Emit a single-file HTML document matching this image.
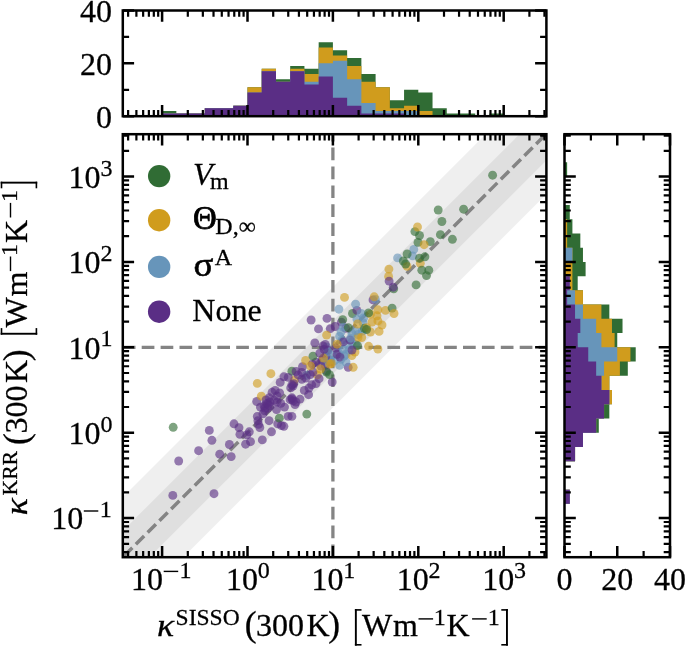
<!DOCTYPE html>
<html lang="en"><head><meta charset="utf-8"><title>kappa KRR vs SISSO</title>
<style>
html,body{margin:0;padding:0;background:#fff;}
body{width:685px;height:647px;overflow:hidden;font-family:"Liberation Serif",serif;}
svg{display:block;will-change:transform;transform:translateZ(0);}
</style></head><body>
<svg width="685" height="647" viewBox="0 0 685 647">
<rect x="0" y="0" width="685" height="647" fill="#fff"/>
<defs><clipPath id="cm"><rect x="122.8" y="134.2" width="423.6" height="423"/></clipPath></defs>
<g clip-path="url(#cm)">
<polygon points="-77.2,697.1 746.4,-126.5 746.4,-5.9 -77.2,817.7" fill="#efefef"/>
<polygon points="-77.2,730.9 746.4,-92.7 746.4,-39.7 -77.2,783.9" fill="#dfdfdf"/>
<line x1="122.8" y1="347.3" x2="546.4" y2="347.3" stroke="#848484" stroke-width="3.3" stroke-dasharray="12.7 6.2"/>
<line x1="332.9" y1="557.2" x2="332.9" y2="134.2" stroke="#848484" stroke-width="3.3" stroke-dasharray="12.7 6.2"/>
<line x1="122.8" y1="557.4" x2="546.4" y2="133.8" stroke="#848484" stroke-width="3.5" stroke-dasharray="11.66 4.99" stroke-dashoffset="14.81"/>
<g fill-opacity="0.62">
<circle cx="294.4" cy="379.9" r="4.45" fill="#d09c1d"/>
<circle cx="355.6" cy="344.4" r="4.45" fill="#6795ba"/>
<circle cx="330" cy="362" r="4.45" fill="#5a2e85"/>
<circle cx="302.5" cy="366.7" r="4.45" fill="#5a2e85"/>
<circle cx="317.3" cy="374.9" r="4.45" fill="#d09c1d"/>
<circle cx="397.6" cy="257.9" r="4.45" fill="#6795ba"/>
<circle cx="385.5" cy="310.4" r="4.45" fill="#d09c1d"/>
<circle cx="388.6" cy="276.4" r="4.45" fill="#d09c1d"/>
<circle cx="231.2" cy="456.6" r="4.45" fill="#5a2e85"/>
<circle cx="290.1" cy="399.7" r="4.45" fill="#5a2e85"/>
<circle cx="279.6" cy="392.9" r="4.45" fill="#5a2e85"/>
<circle cx="326.6" cy="346.9" r="4.45" fill="#6795ba"/>
<circle cx="363.1" cy="322.8" r="4.45" fill="#6795ba"/>
<circle cx="219.7" cy="454.2" r="4.45" fill="#5a2e85"/>
<circle cx="341.4" cy="322.1" r="4.45" fill="#5a2e85"/>
<circle cx="269.1" cy="420.7" r="4.45" fill="#5a2e85"/>
<circle cx="314.8" cy="342.9" r="4.45" fill="#5a2e85"/>
<circle cx="345.7" cy="354.3" r="4.45" fill="#6795ba"/>
<circle cx="259.8" cy="427.5" r="4.45" fill="#5a2e85"/>
<circle cx="340.8" cy="359.2" r="4.45" fill="#6795ba"/>
<circle cx="239" cy="427.7" r="4.45" fill="#5a2e85"/>
<circle cx="198.6" cy="450.7" r="4.45" fill="#5a2e85"/>
<circle cx="315.9" cy="362.3" r="4.45" fill="#5a2e85"/>
<circle cx="441.9" cy="221.5" r="4.45" fill="#306c34"/>
<circle cx="363.6" cy="318" r="4.45" fill="#6795ba"/>
<circle cx="239.9" cy="434.3" r="4.45" fill="#5a2e85"/>
<circle cx="413.8" cy="249.4" r="4.45" fill="#6795ba"/>
<circle cx="362.5" cy="331" r="4.45" fill="#6795ba"/>
<circle cx="347" cy="344.4" r="4.45" fill="#6795ba"/>
<circle cx="348.2" cy="367.3" r="4.45" fill="#5a2e85"/>
<circle cx="280.8" cy="403.4" r="4.45" fill="#5a2e85"/>
<circle cx="293.8" cy="383.6" r="4.45" fill="#5a2e85"/>
<circle cx="338" cy="352" r="4.45" fill="#6795ba"/>
<circle cx="264.1" cy="405.9" r="4.45" fill="#5a2e85"/>
<circle cx="393.7" cy="288.8" r="4.45" fill="#306c34"/>
<circle cx="332.2" cy="382" r="4.45" fill="#5a2e85"/>
<circle cx="277.1" cy="402.1" r="4.45" fill="#5a2e85"/>
<circle cx="438.2" cy="210" r="4.45" fill="#306c34"/>
<circle cx="330" cy="360" r="4.45" fill="#6795ba"/>
<circle cx="172.8" cy="495.4" r="4.45" fill="#5a2e85"/>
<circle cx="309" cy="388" r="4.45" fill="#5a2e85"/>
<circle cx="392.1" cy="308.1" r="4.45" fill="#306c34"/>
<circle cx="306.6" cy="375.2" r="4.45" fill="#6795ba"/>
<circle cx="295" cy="404.6" r="4.45" fill="#5a2e85"/>
<circle cx="334.6" cy="360.5" r="4.45" fill="#6795ba"/>
<circle cx="377.9" cy="320.9" r="4.45" fill="#d09c1d"/>
<circle cx="325.3" cy="365.4" r="4.45" fill="#5a2e85"/>
<circle cx="416.1" cy="284.9" r="4.45" fill="#306c34"/>
<circle cx="313" cy="372" r="4.45" fill="#5a2e85"/>
<circle cx="430.3" cy="241.6" r="4.45" fill="#306c34"/>
<circle cx="264.7" cy="410.8" r="4.45" fill="#5a2e85"/>
<circle cx="342.7" cy="319.7" r="4.45" fill="#306c34"/>
<circle cx="352.5" cy="313.5" r="4.45" fill="#306c34"/>
<circle cx="271.5" cy="431.8" r="4.45" fill="#5a2e85"/>
<circle cx="332.1" cy="355.5" r="4.45" fill="#6795ba"/>
<circle cx="306.8" cy="414.1" r="4.45" fill="#306c34"/>
<circle cx="305.6" cy="360.5" r="4.45" fill="#d09c1d"/>
<circle cx="266.6" cy="403.4" r="4.45" fill="#5a2e85"/>
<circle cx="420.3" cy="263.3" r="4.45" fill="#d09c1d"/>
<circle cx="291.9" cy="371.2" r="4.45" fill="#306c34"/>
<circle cx="322" cy="360" r="4.45" fill="#5a2e85"/>
<circle cx="326" cy="356" r="4.45" fill="#5a2e85"/>
<circle cx="288.2" cy="416.4" r="4.45" fill="#5a2e85"/>
<circle cx="326.4" cy="370.9" r="4.45" fill="#5a2e85"/>
<circle cx="325" cy="362" r="4.45" fill="#6795ba"/>
<circle cx="377" cy="315.8" r="4.45" fill="#d09c1d"/>
<circle cx="370.5" cy="314.1" r="4.45" fill="#d09c1d"/>
<circle cx="323" cy="346" r="4.45" fill="#5a2e85"/>
<circle cx="257.3" cy="383.4" r="4.45" fill="#d09c1d"/>
<circle cx="265" cy="408" r="4.45" fill="#5a2e85"/>
<circle cx="394" cy="313.5" r="4.45" fill="#d09c1d"/>
<circle cx="337.1" cy="354.3" r="4.45" fill="#5a2e85"/>
<circle cx="291.9" cy="384.8" r="4.45" fill="#5a2e85"/>
<circle cx="274" cy="400.3" r="4.45" fill="#5a2e85"/>
<circle cx="277.7" cy="423.8" r="4.45" fill="#5a2e85"/>
<circle cx="284.5" cy="407.1" r="4.45" fill="#5a2e85"/>
<circle cx="301.8" cy="379.3" r="4.45" fill="#5a2e85"/>
<circle cx="245.6" cy="444.2" r="4.45" fill="#5a2e85"/>
<circle cx="178.7" cy="461" r="4.45" fill="#5a2e85"/>
<circle cx="351.9" cy="355.5" r="4.45" fill="#d09c1d"/>
<circle cx="403.3" cy="261" r="4.45" fill="#306c34"/>
<circle cx="339.6" cy="365.4" r="4.45" fill="#6795ba"/>
<circle cx="270.9" cy="373.7" r="4.45" fill="#d09c1d"/>
<circle cx="342" cy="340" r="4.45" fill="#6795ba"/>
<circle cx="388.9" cy="269.1" r="4.45" fill="#d09c1d"/>
<circle cx="292" cy="399" r="4.45" fill="#5a2e85"/>
<circle cx="412.6" cy="255.9" r="4.45" fill="#6795ba"/>
<circle cx="344" cy="356" r="4.45" fill="#6795ba"/>
<circle cx="279.3" cy="418.2" r="4.45" fill="#306c34"/>
<circle cx="211.9" cy="440.3" r="4.45" fill="#5a2e85"/>
<circle cx="377.9" cy="309.8" r="4.45" fill="#d09c1d"/>
<circle cx="340" cy="357" r="4.45" fill="#5a2e85"/>
<circle cx="257.9" cy="420.7" r="4.45" fill="#5a2e85"/>
<circle cx="356.9" cy="310.4" r="4.45" fill="#5a2e85"/>
<circle cx="296.1" cy="371.5" r="4.45" fill="#5a2e85"/>
<circle cx="351.9" cy="333.3" r="4.45" fill="#6795ba"/>
<circle cx="419.5" cy="258.3" r="4.45" fill="#306c34"/>
<circle cx="272.1" cy="392.3" r="4.45" fill="#5a2e85"/>
<circle cx="358.1" cy="334.5" r="4.45" fill="#6795ba"/>
<circle cx="421.8" cy="270.2" r="4.45" fill="#306c34"/>
<circle cx="293" cy="386" r="4.45" fill="#5a2e85"/>
<circle cx="291.9" cy="397.8" r="4.45" fill="#5a2e85"/>
<circle cx="336" cy="348" r="4.45" fill="#5a2e85"/>
<circle cx="256.7" cy="401.5" r="4.45" fill="#5a2e85"/>
<circle cx="250.5" cy="441.7" r="4.45" fill="#5a2e85"/>
<circle cx="234" cy="423.8" r="4.45" fill="#5a2e85"/>
<circle cx="355" cy="352" r="4.45" fill="#d09c1d"/>
<circle cx="389.1" cy="281.1" r="4.45" fill="#5a2e85"/>
<circle cx="246.8" cy="434.9" r="4.45" fill="#5a2e85"/>
<circle cx="311.1" cy="320" r="4.45" fill="#5a2e85"/>
<circle cx="312.4" cy="364.2" r="4.45" fill="#5a2e85"/>
<circle cx="352" cy="342" r="4.45" fill="#6795ba"/>
<circle cx="330.3" cy="328.6" r="4.45" fill="#5a2e85"/>
<circle cx="418" cy="242.4" r="4.45" fill="#306c34"/>
<circle cx="364.3" cy="328.3" r="4.45" fill="#306c34"/>
<circle cx="349" cy="350" r="4.45" fill="#6795ba"/>
<circle cx="321" cy="366" r="4.45" fill="#5a2e85"/>
<circle cx="300" cy="399.1" r="4.45" fill="#5a2e85"/>
<circle cx="229.4" cy="444.5" r="4.45" fill="#5a2e85"/>
<circle cx="355.6" cy="304.2" r="4.45" fill="#6795ba"/>
<circle cx="407.1" cy="266.4" r="4.45" fill="#d09c1d"/>
<circle cx="280.2" cy="382.4" r="4.45" fill="#5a2e85"/>
<circle cx="358" cy="337.5" r="4.45" fill="#d09c1d"/>
<circle cx="368.6" cy="346.3" r="4.45" fill="#d09c1d"/>
<circle cx="209.3" cy="430.4" r="4.45" fill="#5a2e85"/>
<circle cx="258.5" cy="424.4" r="4.45" fill="#5a2e85"/>
<circle cx="393.2" cy="287.2" r="4.45" fill="#5a2e85"/>
<circle cx="350" cy="340" r="4.45" fill="#5a2e85"/>
<circle cx="311.7" cy="384.8" r="4.45" fill="#5a2e85"/>
<circle cx="291.9" cy="416.4" r="4.45" fill="#5a2e85"/>
<circle cx="269.1" cy="397.8" r="4.45" fill="#5a2e85"/>
<circle cx="319.1" cy="378.7" r="4.45" fill="#5a2e85"/>
<circle cx="262.9" cy="413.9" r="4.45" fill="#5a2e85"/>
<circle cx="249.3" cy="431.8" r="4.45" fill="#5a2e85"/>
<circle cx="328" cy="350" r="4.45" fill="#5a2e85"/>
<circle cx="301.8" cy="372.5" r="4.45" fill="#5a2e85"/>
<circle cx="328" cy="352" r="4.45" fill="#6795ba"/>
<circle cx="361.2" cy="313.5" r="4.45" fill="#6795ba"/>
<circle cx="368.6" cy="312.9" r="4.45" fill="#306c34"/>
<circle cx="267.8" cy="408.3" r="4.45" fill="#5a2e85"/>
<circle cx="343.3" cy="349.4" r="4.45" fill="#6795ba"/>
<circle cx="257.3" cy="416.4" r="4.45" fill="#5a2e85"/>
<circle cx="324.1" cy="349.4" r="4.45" fill="#5a2e85"/>
<circle cx="214" cy="493.7" r="4.45" fill="#5a2e85"/>
<circle cx="357.5" cy="345.6" r="4.45" fill="#306c34"/>
<circle cx="440.4" cy="234.7" r="4.45" fill="#306c34"/>
<circle cx="335.2" cy="326.5" r="4.45" fill="#5a2e85"/>
<circle cx="304.3" cy="390.4" r="4.45" fill="#5a2e85"/>
<circle cx="373" cy="299.9" r="4.45" fill="#5a2e85"/>
<circle cx="356.9" cy="319.1" r="4.45" fill="#6795ba"/>
<circle cx="262.3" cy="439.9" r="4.45" fill="#5a2e85"/>
<circle cx="338.9" cy="309.2" r="4.45" fill="#6795ba"/>
<circle cx="331.3" cy="363.5" r="4.45" fill="#d09c1d"/>
<circle cx="298.1" cy="374.9" r="4.45" fill="#5a2e85"/>
<circle cx="370.5" cy="332" r="4.45" fill="#d09c1d"/>
<circle cx="283.9" cy="426.3" r="4.45" fill="#5a2e85"/>
<circle cx="325.3" cy="344.4" r="4.45" fill="#5a2e85"/>
<circle cx="426.5" cy="275.6" r="4.45" fill="#306c34"/>
<circle cx="288.2" cy="377.4" r="4.45" fill="#5a2e85"/>
<circle cx="424.1" cy="244.7" r="4.45" fill="#d09c1d"/>
<circle cx="419.5" cy="235.5" r="4.45" fill="#306c34"/>
<circle cx="293.2" cy="400.9" r="4.45" fill="#5a2e85"/>
<circle cx="308.6" cy="394.7" r="4.45" fill="#5a2e85"/>
<circle cx="345.7" cy="328.3" r="4.45" fill="#5a2e85"/>
<circle cx="379.1" cy="331.4" r="4.45" fill="#d09c1d"/>
<circle cx="377.9" cy="349.1" r="4.45" fill="#d09c1d"/>
<circle cx="339.6" cy="336.4" r="4.45" fill="#6795ba"/>
<circle cx="414.9" cy="231.6" r="4.45" fill="#306c34"/>
<circle cx="407.1" cy="254" r="4.45" fill="#306c34"/>
<circle cx="281.4" cy="425.6" r="4.45" fill="#5a2e85"/>
<circle cx="355.6" cy="330.8" r="4.45" fill="#6795ba"/>
<circle cx="329.5" cy="374.6" r="4.45" fill="#306c34"/>
<circle cx="405.6" cy="264" r="4.45" fill="#306c34"/>
<circle cx="353.2" cy="367.3" r="4.45" fill="#d09c1d"/>
<circle cx="463.6" cy="209.2" r="4.45" fill="#306c34"/>
<circle cx="310.5" cy="366" r="4.45" fill="#d09c1d"/>
<circle cx="276.5" cy="409.6" r="4.45" fill="#5a2e85"/>
<circle cx="417.5" cy="227" r="4.45" fill="#d09c1d"/>
<circle cx="268" cy="404" r="4.45" fill="#5a2e85"/>
<circle cx="343.3" cy="341.9" r="4.45" fill="#5a2e85"/>
<circle cx="326.5" cy="372" r="4.45" fill="#306c34"/>
<circle cx="260.4" cy="407.1" r="4.45" fill="#5a2e85"/>
<circle cx="261.3" cy="396.2" r="4.45" fill="#d09c1d"/>
<circle cx="327" cy="318.4" r="4.45" fill="#5a2e85"/>
<circle cx="313" cy="356.2" r="4.45" fill="#306c34"/>
<circle cx="346" cy="362" r="4.45" fill="#6795ba"/>
<circle cx="329.7" cy="364.2" r="4.45" fill="#d09c1d"/>
<circle cx="277.1" cy="396" r="4.45" fill="#5a2e85"/>
<circle cx="366.8" cy="327.7" r="4.45" fill="#d09c1d"/>
<circle cx="270" cy="402" r="4.45" fill="#5a2e85"/>
<circle cx="310.3" cy="374.6" r="4.45" fill="#5a2e85"/>
<circle cx="375.4" cy="299.4" r="4.45" fill="#6795ba"/>
<circle cx="350.7" cy="338.2" r="4.45" fill="#6795ba"/>
<circle cx="283.9" cy="376.8" r="4.45" fill="#5a2e85"/>
<circle cx="316" cy="383.6" r="4.45" fill="#5a2e85"/>
<circle cx="266" cy="400" r="4.45" fill="#5a2e85"/>
<circle cx="296" cy="402" r="4.45" fill="#5a2e85"/>
<circle cx="343.3" cy="327.1" r="4.45" fill="#6795ba"/>
<circle cx="348.2" cy="327.7" r="4.45" fill="#306c34"/>
<circle cx="492.6" cy="175.2" r="4.45" fill="#306c34"/>
<circle cx="452.4" cy="239.3" r="4.45" fill="#306c34"/>
<circle cx="372" cy="322" r="4.45" fill="#d09c1d"/>
<circle cx="318.5" cy="328.9" r="4.45" fill="#5a2e85"/>
<circle cx="428.8" cy="270.2" r="4.45" fill="#306c34"/>
<circle cx="269.7" cy="405.9" r="4.45" fill="#5a2e85"/>
<circle cx="344.5" cy="297.4" r="4.45" fill="#d09c1d"/>
<circle cx="352" cy="350" r="4.45" fill="#5a2e85"/>
<circle cx="173.2" cy="427.3" r="4.45" fill="#306c34"/>
<circle cx="320.5" cy="369" r="4.45" fill="#d09c1d"/>
<circle cx="306" cy="378" r="4.45" fill="#5a2e85"/>
<circle cx="424.9" cy="256.8" r="4.45" fill="#306c34"/>
<circle cx="275.2" cy="390.4" r="4.45" fill="#5a2e85"/>
<circle cx="361.7" cy="337.5" r="4.45" fill="#d09c1d"/>
<circle cx="290.7" cy="387.9" r="4.45" fill="#5a2e85"/>
<circle cx="366.5" cy="329.5" r="4.45" fill="#306c34"/>
<circle cx="323.5" cy="358" r="4.45" fill="#d09c1d"/>
<circle cx="382" cy="325" r="4.45" fill="#d09c1d"/>
<circle cx="319.8" cy="353.1" r="4.45" fill="#5a2e85"/>
<circle cx="341" cy="332" r="4.45" fill="#6795ba"/>
<circle cx="326.6" cy="335.1" r="4.45" fill="#d09c1d"/>
<circle cx="337.1" cy="344.2" r="4.45" fill="#d09c1d"/>
<circle cx="357.5" cy="324" r="4.45" fill="#d09c1d"/>
<circle cx="374.2" cy="296.8" r="4.45" fill="#d09c1d"/>
</g>
</g>
<path d="M162.1 116.2 L162.1 110.92 L176.33 110.92 L176.33 113.56 L190.57 113.56 L190.57 113.56 L204.8 113.56 L204.8 108.27 L219.03 108.27 L219.03 108.27 L233.27 108.27 L233.27 105.63 L247.5 105.63 L247.5 87.13 L261.73 87.13 L261.73 68.64 L275.97 68.64 L275.97 79.2 L290.2 79.2 L290.2 65.99 L304.43 65.99 L304.43 68.64 L318.67 68.64 L318.67 42.21 L332.9 42.21 L332.9 50.14 L347.13 50.14 L347.13 58.06 L361.37 58.06 L361.37 73.92 L375.6 73.92 L375.6 87.13 L389.83 87.13 L389.83 100.34 L404.07 100.34 L404.07 89.78 L418.3 89.78 L418.3 92.42 L432.53 92.42 L432.53 108.27 L446.77 108.27 L446.77 113.56 L461 113.56 L461 113.56 L475.23 113.56 L475.23 116.2 Z M489.47 116.2 L489.47 113.56 L503.7 113.56 L503.7 116.2 Z" fill="#306c34"/>
<path d="M162.1 116.2 L162.1 113.56 L176.33 113.56 L176.33 113.56 L190.57 113.56 L190.57 113.56 L204.8 113.56 L204.8 108.27 L219.03 108.27 L219.03 108.27 L233.27 108.27 L233.27 105.63 L247.5 105.63 L247.5 87.13 L261.73 87.13 L261.73 68.64 L275.97 68.64 L275.97 81.85 L290.2 81.85 L290.2 68.64 L304.43 68.64 L304.43 73.92 L318.67 73.92 L318.67 47.5 L332.9 47.5 L332.9 55.42 L347.13 55.42 L347.13 65.99 L361.37 65.99 L361.37 81.85 L375.6 81.85 L375.6 87.13 L389.83 87.13 L389.83 108.27 L404.07 108.27 L404.07 105.63 L418.3 105.63 L418.3 110.92 L432.53 110.92 L432.53 116.2 Z" fill="#d09c1d"/>
<path d="M162.1 116.2 L162.1 113.56 L176.33 113.56 L176.33 113.56 L190.57 113.56 L190.57 113.56 L204.8 113.56 L204.8 108.27 L219.03 108.27 L219.03 108.27 L233.27 108.27 L233.27 105.63 L247.5 105.63 L247.5 92.42 L261.73 92.42 L261.73 71.28 L275.97 71.28 L275.97 81.85 L290.2 81.85 L290.2 71.28 L304.43 71.28 L304.43 81.85 L318.67 81.85 L318.67 63.35 L332.9 63.35 L332.9 60.71 L347.13 60.71 L347.13 79.2 L361.37 79.2 L361.37 102.99 L375.6 102.99 L375.6 110.92 L389.83 110.92 L389.83 110.92 L404.07 110.92 L404.07 110.92 L418.3 110.92 L418.3 116.2 Z" fill="#6795ba"/>
<path d="M162.1 116.2 L162.1 113.56 L176.33 113.56 L176.33 113.56 L190.57 113.56 L190.57 113.56 L204.8 113.56 L204.8 108.27 L219.03 108.27 L219.03 108.27 L233.27 108.27 L233.27 105.63 L247.5 105.63 L247.5 92.42 L261.73 92.42 L261.73 71.28 L275.97 71.28 L275.97 81.85 L290.2 81.85 L290.2 71.28 L304.43 71.28 L304.43 84.49 L318.67 84.49 L318.67 76.56 L332.9 76.56 L332.9 97.7 L347.13 97.7 L347.13 105.63 L361.37 105.63 L361.37 113.56 L375.6 113.56 L375.6 113.56 L389.83 113.56 L389.83 113.56 L404.07 113.56 L404.07 116.2 Z" fill="#5a2e85"/>
<path d="M564.5 503.87 L569.77 503.87 L569.77 489.63 L564.5 489.63 Z M564.5 461.17 L575.05 461.17 L575.05 446.93 L582.96 446.93 L582.96 432.7 L598.79 432.7 L598.79 418.47 L609.34 418.47 L609.34 404.23 L611.98 404.23 L611.98 390 L609.34 390 L609.34 375.77 L627.8 375.77 L627.8 361.53 L635.71 361.53 L635.71 347.3 L617.25 347.3 L617.25 333.07 L622.52 333.07 L622.52 318.83 L609.34 318.83 L609.34 304.6 L582.96 304.6 L582.96 290.37 L577.69 290.37 L577.69 276.13 L585.6 276.13 L585.6 261.9 L582.96 261.9 L582.96 247.67 L580.33 247.67 L580.33 233.43 L572.41 233.43 L572.41 219.2 L569.77 219.2 L569.77 204.97 L564.5 204.97 Z M564.5 176.5 L567.14 176.5 L567.14 162.27 L564.5 162.27 Z" fill="#306c34"/>
<path d="M564.5 503.87 L569.77 503.87 L569.77 489.63 L564.5 489.63 Z M564.5 461.17 L575.05 461.17 L575.05 446.93 L582.96 446.93 L582.96 432.7 L596.15 432.7 L596.15 418.47 L604.06 418.47 L604.06 404.23 L611.98 404.23 L611.98 390 L609.34 390 L609.34 375.77 L619.89 375.77 L619.89 361.53 L630.44 361.53 L630.44 347.3 L614.61 347.3 L614.61 333.07 L611.98 333.07 L611.98 318.83 L601.42 318.83 L601.42 304.6 L582.96 304.6 L582.96 290.37 L572.41 290.37 L572.41 276.13 L572.41 276.13 L572.41 261.9 L572.41 261.9 L572.41 247.67 L567.14 247.67 L567.14 233.43 L567.14 233.43 L567.14 219.2 L564.5 219.2 Z" fill="#d09c1d"/>
<path d="M564.5 503.87 L569.77 503.87 L569.77 489.63 L564.5 489.63 Z M564.5 461.17 L575.05 461.17 L575.05 446.93 L582.96 446.93 L582.96 432.7 L596.15 432.7 L596.15 418.47 L604.06 418.47 L604.06 404.23 L609.34 404.23 L609.34 390 L601.42 390 L601.42 375.77 L604.06 375.77 L604.06 361.53 L617.25 361.53 L617.25 347.3 L601.42 347.3 L601.42 333.07 L596.15 333.07 L596.15 318.83 L582.96 318.83 L582.96 304.6 L575.05 304.6 L575.05 290.37 L569.77 290.37 L569.77 276.13 L564.5 276.13 Z M564.5 261.9 L572.41 261.9 L572.41 247.67 L564.5 247.67 Z" fill="#6795ba"/>
<path d="M564.5 503.87 L569.77 503.87 L569.77 489.63 L564.5 489.63 Z M564.5 461.17 L575.05 461.17 L575.05 446.93 L582.96 446.93 L582.96 432.7 L596.15 432.7 L596.15 418.47 L604.06 418.47 L604.06 404.23 L609.34 404.23 L609.34 390 L601.42 390 L601.42 375.77 L596.15 375.77 L596.15 361.53 L588.24 361.53 L588.24 347.3 L577.69 347.3 L577.69 333.07 L580.33 333.07 L580.33 318.83 L575.05 318.83 L575.05 304.6 L567.14 304.6 L567.14 290.37 L569.77 290.37 L569.77 276.13 L564.5 276.13 Z" fill="#5a2e85"/>
<g stroke="#000" stroke-linecap="butt">
<path d="M128.12 134.2v6.3 M128.12 557.2v-6.3" stroke-width="2.2"/>
<path d="M136.39 134.2v6.3 M136.39 557.2v-6.3" stroke-width="2.2"/>
<path d="M143.15 134.2v6.3 M143.15 557.2v-6.3" stroke-width="2.2"/>
<path d="M148.87 134.2v6.3 M148.87 557.2v-6.3" stroke-width="2.2"/>
<path d="M153.82 134.2v6.3 M153.82 557.2v-6.3" stroke-width="2.2"/>
<path d="M158.19 134.2v6.3 M158.19 557.2v-6.3" stroke-width="2.2"/>
<path d="M162.1 134.2v11.3 M162.1 557.2v-11.3" stroke-width="2.5"/>
<path d="M187.81 134.2v6.3 M187.81 557.2v-6.3" stroke-width="2.2"/>
<path d="M202.85 134.2v6.3 M202.85 557.2v-6.3" stroke-width="2.2"/>
<path d="M213.52 134.2v6.3 M213.52 557.2v-6.3" stroke-width="2.2"/>
<path d="M221.79 134.2v6.3 M221.79 557.2v-6.3" stroke-width="2.2"/>
<path d="M228.55 134.2v6.3 M228.55 557.2v-6.3" stroke-width="2.2"/>
<path d="M234.27 134.2v6.3 M234.27 557.2v-6.3" stroke-width="2.2"/>
<path d="M239.22 134.2v6.3 M239.22 557.2v-6.3" stroke-width="2.2"/>
<path d="M243.59 134.2v6.3 M243.59 557.2v-6.3" stroke-width="2.2"/>
<path d="M247.5 134.2v11.3 M247.5 557.2v-11.3" stroke-width="2.5"/>
<path d="M273.21 134.2v6.3 M273.21 557.2v-6.3" stroke-width="2.2"/>
<path d="M288.25 134.2v6.3 M288.25 557.2v-6.3" stroke-width="2.2"/>
<path d="M298.92 134.2v6.3 M298.92 557.2v-6.3" stroke-width="2.2"/>
<path d="M307.19 134.2v6.3 M307.19 557.2v-6.3" stroke-width="2.2"/>
<path d="M313.95 134.2v6.3 M313.95 557.2v-6.3" stroke-width="2.2"/>
<path d="M319.67 134.2v6.3 M319.67 557.2v-6.3" stroke-width="2.2"/>
<path d="M324.62 134.2v6.3 M324.62 557.2v-6.3" stroke-width="2.2"/>
<path d="M328.99 134.2v6.3 M328.99 557.2v-6.3" stroke-width="2.2"/>
<path d="M332.9 134.2v11.3 M332.9 557.2v-11.3" stroke-width="2.5"/>
<path d="M358.61 134.2v6.3 M358.61 557.2v-6.3" stroke-width="2.2"/>
<path d="M373.65 134.2v6.3 M373.65 557.2v-6.3" stroke-width="2.2"/>
<path d="M384.32 134.2v6.3 M384.32 557.2v-6.3" stroke-width="2.2"/>
<path d="M392.59 134.2v6.3 M392.59 557.2v-6.3" stroke-width="2.2"/>
<path d="M399.35 134.2v6.3 M399.35 557.2v-6.3" stroke-width="2.2"/>
<path d="M405.07 134.2v6.3 M405.07 557.2v-6.3" stroke-width="2.2"/>
<path d="M410.02 134.2v6.3 M410.02 557.2v-6.3" stroke-width="2.2"/>
<path d="M414.39 134.2v6.3 M414.39 557.2v-6.3" stroke-width="2.2"/>
<path d="M418.3 134.2v11.3 M418.3 557.2v-11.3" stroke-width="2.5"/>
<path d="M444.01 134.2v6.3 M444.01 557.2v-6.3" stroke-width="2.2"/>
<path d="M459.05 134.2v6.3 M459.05 557.2v-6.3" stroke-width="2.2"/>
<path d="M469.72 134.2v6.3 M469.72 557.2v-6.3" stroke-width="2.2"/>
<path d="M477.99 134.2v6.3 M477.99 557.2v-6.3" stroke-width="2.2"/>
<path d="M484.75 134.2v6.3 M484.75 557.2v-6.3" stroke-width="2.2"/>
<path d="M490.47 134.2v6.3 M490.47 557.2v-6.3" stroke-width="2.2"/>
<path d="M495.42 134.2v6.3 M495.42 557.2v-6.3" stroke-width="2.2"/>
<path d="M499.79 134.2v6.3 M499.79 557.2v-6.3" stroke-width="2.2"/>
<path d="M503.7 134.2v11.3 M503.7 557.2v-11.3" stroke-width="2.5"/>
<path d="M529.41 134.2v6.3 M529.41 557.2v-6.3" stroke-width="2.2"/>
<path d="M544.45 134.2v6.3 M544.45 557.2v-6.3" stroke-width="2.2"/>
<path d="M122.8 552.08h6.3 M546.4 552.08h-6.3" stroke-width="2.2"/>
<path d="M122.8 543.81h6.3 M546.4 543.81h-6.3" stroke-width="2.2"/>
<path d="M122.8 537.05h6.3 M546.4 537.05h-6.3" stroke-width="2.2"/>
<path d="M122.8 531.33h6.3 M546.4 531.33h-6.3" stroke-width="2.2"/>
<path d="M122.8 526.38h6.3 M546.4 526.38h-6.3" stroke-width="2.2"/>
<path d="M122.8 522.01h6.3 M546.4 522.01h-6.3" stroke-width="2.2"/>
<path d="M122.8 518.1h11.3 M546.4 518.1h-11.3" stroke-width="2.5"/>
<path d="M122.8 492.39h6.3 M546.4 492.39h-6.3" stroke-width="2.2"/>
<path d="M122.8 477.35h6.3 M546.4 477.35h-6.3" stroke-width="2.2"/>
<path d="M122.8 466.68h6.3 M546.4 466.68h-6.3" stroke-width="2.2"/>
<path d="M122.8 458.41h6.3 M546.4 458.41h-6.3" stroke-width="2.2"/>
<path d="M122.8 451.65h6.3 M546.4 451.65h-6.3" stroke-width="2.2"/>
<path d="M122.8 445.93h6.3 M546.4 445.93h-6.3" stroke-width="2.2"/>
<path d="M122.8 440.98h6.3 M546.4 440.98h-6.3" stroke-width="2.2"/>
<path d="M122.8 436.61h6.3 M546.4 436.61h-6.3" stroke-width="2.2"/>
<path d="M122.8 432.7h11.3 M546.4 432.7h-11.3" stroke-width="2.5"/>
<path d="M122.8 406.99h6.3 M546.4 406.99h-6.3" stroke-width="2.2"/>
<path d="M122.8 391.95h6.3 M546.4 391.95h-6.3" stroke-width="2.2"/>
<path d="M122.8 381.28h6.3 M546.4 381.28h-6.3" stroke-width="2.2"/>
<path d="M122.8 373.01h6.3 M546.4 373.01h-6.3" stroke-width="2.2"/>
<path d="M122.8 366.25h6.3 M546.4 366.25h-6.3" stroke-width="2.2"/>
<path d="M122.8 360.53h6.3 M546.4 360.53h-6.3" stroke-width="2.2"/>
<path d="M122.8 355.58h6.3 M546.4 355.58h-6.3" stroke-width="2.2"/>
<path d="M122.8 351.21h6.3 M546.4 351.21h-6.3" stroke-width="2.2"/>
<path d="M122.8 347.3h11.3 M546.4 347.3h-11.3" stroke-width="2.5"/>
<path d="M122.8 321.59h6.3 M546.4 321.59h-6.3" stroke-width="2.2"/>
<path d="M122.8 306.55h6.3 M546.4 306.55h-6.3" stroke-width="2.2"/>
<path d="M122.8 295.88h6.3 M546.4 295.88h-6.3" stroke-width="2.2"/>
<path d="M122.8 287.61h6.3 M546.4 287.61h-6.3" stroke-width="2.2"/>
<path d="M122.8 280.85h6.3 M546.4 280.85h-6.3" stroke-width="2.2"/>
<path d="M122.8 275.13h6.3 M546.4 275.13h-6.3" stroke-width="2.2"/>
<path d="M122.8 270.18h6.3 M546.4 270.18h-6.3" stroke-width="2.2"/>
<path d="M122.8 265.81h6.3 M546.4 265.81h-6.3" stroke-width="2.2"/>
<path d="M122.8 261.9h11.3 M546.4 261.9h-11.3" stroke-width="2.5"/>
<path d="M122.8 236.19h6.3 M546.4 236.19h-6.3" stroke-width="2.2"/>
<path d="M122.8 221.15h6.3 M546.4 221.15h-6.3" stroke-width="2.2"/>
<path d="M122.8 210.48h6.3 M546.4 210.48h-6.3" stroke-width="2.2"/>
<path d="M122.8 202.21h6.3 M546.4 202.21h-6.3" stroke-width="2.2"/>
<path d="M122.8 195.45h6.3 M546.4 195.45h-6.3" stroke-width="2.2"/>
<path d="M122.8 189.73h6.3 M546.4 189.73h-6.3" stroke-width="2.2"/>
<path d="M122.8 184.78h6.3 M546.4 184.78h-6.3" stroke-width="2.2"/>
<path d="M122.8 180.41h6.3 M546.4 180.41h-6.3" stroke-width="2.2"/>
<path d="M122.8 176.5h11.3 M546.4 176.5h-11.3" stroke-width="2.5"/>
<path d="M122.8 150.79h6.3 M546.4 150.79h-6.3" stroke-width="2.2"/>
<path d="M122.8 135.75h6.3 M546.4 135.75h-6.3" stroke-width="2.2"/>
<path d="M128.12 10.5v6.3 M128.12 116.2v-6.3" stroke-width="2.2"/>
<path d="M136.39 10.5v6.3 M136.39 116.2v-6.3" stroke-width="2.2"/>
<path d="M143.15 10.5v6.3 M143.15 116.2v-6.3" stroke-width="2.2"/>
<path d="M148.87 10.5v6.3 M148.87 116.2v-6.3" stroke-width="2.2"/>
<path d="M153.82 10.5v6.3 M153.82 116.2v-6.3" stroke-width="2.2"/>
<path d="M158.19 10.5v6.3 M158.19 116.2v-6.3" stroke-width="2.2"/>
<path d="M162.1 10.5v11.3 M162.1 116.2v-11.3" stroke-width="2.5"/>
<path d="M187.81 10.5v6.3 M187.81 116.2v-6.3" stroke-width="2.2"/>
<path d="M202.85 10.5v6.3 M202.85 116.2v-6.3" stroke-width="2.2"/>
<path d="M213.52 10.5v6.3 M213.52 116.2v-6.3" stroke-width="2.2"/>
<path d="M221.79 10.5v6.3 M221.79 116.2v-6.3" stroke-width="2.2"/>
<path d="M228.55 10.5v6.3 M228.55 116.2v-6.3" stroke-width="2.2"/>
<path d="M234.27 10.5v6.3 M234.27 116.2v-6.3" stroke-width="2.2"/>
<path d="M239.22 10.5v6.3 M239.22 116.2v-6.3" stroke-width="2.2"/>
<path d="M243.59 10.5v6.3 M243.59 116.2v-6.3" stroke-width="2.2"/>
<path d="M247.5 10.5v11.3 M247.5 116.2v-11.3" stroke-width="2.5"/>
<path d="M273.21 10.5v6.3 M273.21 116.2v-6.3" stroke-width="2.2"/>
<path d="M288.25 10.5v6.3 M288.25 116.2v-6.3" stroke-width="2.2"/>
<path d="M298.92 10.5v6.3 M298.92 116.2v-6.3" stroke-width="2.2"/>
<path d="M307.19 10.5v6.3 M307.19 116.2v-6.3" stroke-width="2.2"/>
<path d="M313.95 10.5v6.3 M313.95 116.2v-6.3" stroke-width="2.2"/>
<path d="M319.67 10.5v6.3 M319.67 116.2v-6.3" stroke-width="2.2"/>
<path d="M324.62 10.5v6.3 M324.62 116.2v-6.3" stroke-width="2.2"/>
<path d="M328.99 10.5v6.3 M328.99 116.2v-6.3" stroke-width="2.2"/>
<path d="M332.9 10.5v11.3 M332.9 116.2v-11.3" stroke-width="2.5"/>
<path d="M358.61 10.5v6.3 M358.61 116.2v-6.3" stroke-width="2.2"/>
<path d="M373.65 10.5v6.3 M373.65 116.2v-6.3" stroke-width="2.2"/>
<path d="M384.32 10.5v6.3 M384.32 116.2v-6.3" stroke-width="2.2"/>
<path d="M392.59 10.5v6.3 M392.59 116.2v-6.3" stroke-width="2.2"/>
<path d="M399.35 10.5v6.3 M399.35 116.2v-6.3" stroke-width="2.2"/>
<path d="M405.07 10.5v6.3 M405.07 116.2v-6.3" stroke-width="2.2"/>
<path d="M410.02 10.5v6.3 M410.02 116.2v-6.3" stroke-width="2.2"/>
<path d="M414.39 10.5v6.3 M414.39 116.2v-6.3" stroke-width="2.2"/>
<path d="M418.3 10.5v11.3 M418.3 116.2v-11.3" stroke-width="2.5"/>
<path d="M444.01 10.5v6.3 M444.01 116.2v-6.3" stroke-width="2.2"/>
<path d="M459.05 10.5v6.3 M459.05 116.2v-6.3" stroke-width="2.2"/>
<path d="M469.72 10.5v6.3 M469.72 116.2v-6.3" stroke-width="2.2"/>
<path d="M477.99 10.5v6.3 M477.99 116.2v-6.3" stroke-width="2.2"/>
<path d="M484.75 10.5v6.3 M484.75 116.2v-6.3" stroke-width="2.2"/>
<path d="M490.47 10.5v6.3 M490.47 116.2v-6.3" stroke-width="2.2"/>
<path d="M495.42 10.5v6.3 M495.42 116.2v-6.3" stroke-width="2.2"/>
<path d="M499.79 10.5v6.3 M499.79 116.2v-6.3" stroke-width="2.2"/>
<path d="M503.7 10.5v11.3 M503.7 116.2v-11.3" stroke-width="2.5"/>
<path d="M529.41 10.5v6.3 M529.41 116.2v-6.3" stroke-width="2.2"/>
<path d="M544.45 10.5v6.3 M544.45 116.2v-6.3" stroke-width="2.2"/>
<path d="M564.5 552.08h6.3 M670 552.08h-6.3" stroke-width="2.2"/>
<path d="M564.5 543.81h6.3 M670 543.81h-6.3" stroke-width="2.2"/>
<path d="M564.5 537.05h6.3 M670 537.05h-6.3" stroke-width="2.2"/>
<path d="M564.5 531.33h6.3 M670 531.33h-6.3" stroke-width="2.2"/>
<path d="M564.5 526.38h6.3 M670 526.38h-6.3" stroke-width="2.2"/>
<path d="M564.5 522.01h6.3 M670 522.01h-6.3" stroke-width="2.2"/>
<path d="M564.5 518.1h11.3 M670 518.1h-11.3" stroke-width="2.5"/>
<path d="M564.5 492.39h6.3 M670 492.39h-6.3" stroke-width="2.2"/>
<path d="M564.5 477.35h6.3 M670 477.35h-6.3" stroke-width="2.2"/>
<path d="M564.5 466.68h6.3 M670 466.68h-6.3" stroke-width="2.2"/>
<path d="M564.5 458.41h6.3 M670 458.41h-6.3" stroke-width="2.2"/>
<path d="M564.5 451.65h6.3 M670 451.65h-6.3" stroke-width="2.2"/>
<path d="M564.5 445.93h6.3 M670 445.93h-6.3" stroke-width="2.2"/>
<path d="M564.5 440.98h6.3 M670 440.98h-6.3" stroke-width="2.2"/>
<path d="M564.5 436.61h6.3 M670 436.61h-6.3" stroke-width="2.2"/>
<path d="M564.5 432.7h11.3 M670 432.7h-11.3" stroke-width="2.5"/>
<path d="M564.5 406.99h6.3 M670 406.99h-6.3" stroke-width="2.2"/>
<path d="M564.5 391.95h6.3 M670 391.95h-6.3" stroke-width="2.2"/>
<path d="M564.5 381.28h6.3 M670 381.28h-6.3" stroke-width="2.2"/>
<path d="M564.5 373.01h6.3 M670 373.01h-6.3" stroke-width="2.2"/>
<path d="M564.5 366.25h6.3 M670 366.25h-6.3" stroke-width="2.2"/>
<path d="M564.5 360.53h6.3 M670 360.53h-6.3" stroke-width="2.2"/>
<path d="M564.5 355.58h6.3 M670 355.58h-6.3" stroke-width="2.2"/>
<path d="M564.5 351.21h6.3 M670 351.21h-6.3" stroke-width="2.2"/>
<path d="M564.5 347.3h11.3 M670 347.3h-11.3" stroke-width="2.5"/>
<path d="M564.5 321.59h6.3 M670 321.59h-6.3" stroke-width="2.2"/>
<path d="M564.5 306.55h6.3 M670 306.55h-6.3" stroke-width="2.2"/>
<path d="M564.5 295.88h6.3 M670 295.88h-6.3" stroke-width="2.2"/>
<path d="M564.5 287.61h6.3 M670 287.61h-6.3" stroke-width="2.2"/>
<path d="M564.5 280.85h6.3 M670 280.85h-6.3" stroke-width="2.2"/>
<path d="M564.5 275.13h6.3 M670 275.13h-6.3" stroke-width="2.2"/>
<path d="M564.5 270.18h6.3 M670 270.18h-6.3" stroke-width="2.2"/>
<path d="M564.5 265.81h6.3 M670 265.81h-6.3" stroke-width="2.2"/>
<path d="M564.5 261.9h11.3 M670 261.9h-11.3" stroke-width="2.5"/>
<path d="M564.5 236.19h6.3 M670 236.19h-6.3" stroke-width="2.2"/>
<path d="M564.5 221.15h6.3 M670 221.15h-6.3" stroke-width="2.2"/>
<path d="M564.5 210.48h6.3 M670 210.48h-6.3" stroke-width="2.2"/>
<path d="M564.5 202.21h6.3 M670 202.21h-6.3" stroke-width="2.2"/>
<path d="M564.5 195.45h6.3 M670 195.45h-6.3" stroke-width="2.2"/>
<path d="M564.5 189.73h6.3 M670 189.73h-6.3" stroke-width="2.2"/>
<path d="M564.5 184.78h6.3 M670 184.78h-6.3" stroke-width="2.2"/>
<path d="M564.5 180.41h6.3 M670 180.41h-6.3" stroke-width="2.2"/>
<path d="M564.5 176.5h11.3 M670 176.5h-11.3" stroke-width="2.5"/>
<path d="M564.5 150.79h6.3 M670 150.79h-6.3" stroke-width="2.2"/>
<path d="M564.5 135.75h6.3 M670 135.75h-6.3" stroke-width="2.2"/>
<path d="M122.8 116.2h11.3 M546.4 116.2h-11.3" stroke-width="2.5"/>
<path d="M564.5 134.2v11.3 M564.5 557.2v-11.3" stroke-width="2.5"/>
<path d="M122.8 89.78h6.3 M546.4 89.78h-6.3" stroke-width="2.2"/>
<path d="M590.88 134.2v6.3 M590.88 557.2v-6.3" stroke-width="2.2"/>
<path d="M122.8 63.35h11.3 M546.4 63.35h-11.3" stroke-width="2.5"/>
<path d="M617.25 134.2v11.3 M617.25 557.2v-11.3" stroke-width="2.5"/>
<path d="M122.8 36.92h6.3 M546.4 36.92h-6.3" stroke-width="2.2"/>
<path d="M643.62 134.2v6.3 M643.62 557.2v-6.3" stroke-width="2.2"/>
<path d="M122.8 10.5h11.3 M546.4 10.5h-11.3" stroke-width="2.5"/>
<path d="M670 134.2v11.3 M670 557.2v-11.3" stroke-width="2.5"/>
</g>
<g fill="none" stroke="#000" stroke-width="2.5" stroke-linejoin="miter">
<rect x="122.8" y="134.2" width="423.6" height="423"/>
<rect x="122.8" y="10.5" width="423.6" height="105.7"/>
<rect x="564.5" y="134.2" width="105.5" height="423"/>
</g>
<circle cx="159.15" cy="176.1" r="11.2" fill="#306c34"/>
<circle cx="159.15" cy="220.2" r="11.2" fill="#d09c1d"/>
<circle cx="159.15" cy="266.9" r="11.2" fill="#6795ba"/>
<circle cx="159.15" cy="311.7" r="11.2" fill="#5a2e85"/>
<g font-family="'Liberation Serif', serif" fill="#000" stroke="#000" stroke-width="0.28">
<text x="131.1" y="589.7" font-size="32" text-anchor="start">10</text>
<rect x="163.7" y="570.7" width="14.5" height="1.4" fill="#000" stroke="none"/>
<text x="179.6" y="577.6" font-size="24" text-anchor="start">1</text>
<text x="226" y="589.7" font-size="32" text-anchor="start">10</text>
<text x="257.8" y="577.6" font-size="24" text-anchor="start">0</text>
<text x="311.4" y="589.7" font-size="32" text-anchor="start">10</text>
<text x="343.2" y="577.6" font-size="24" text-anchor="start">1</text>
<text x="396.8" y="589.7" font-size="32" text-anchor="start">10</text>
<text x="428.6" y="577.6" font-size="24" text-anchor="start">2</text>
<text x="482.2" y="589.7" font-size="32" text-anchor="start">10</text>
<text x="514" y="577.6" font-size="24" text-anchor="start">3</text>
<text x="51.2" y="529.3" font-size="32" text-anchor="start">10</text>
<rect x="83.8" y="510.3" width="14.5" height="1.4" fill="#000" stroke="none"/>
<text x="99.7" y="517.2" font-size="24" text-anchor="start">1</text>
<text x="68.6" y="443.9" font-size="32" text-anchor="start">10</text>
<text x="100.4" y="431.8" font-size="24" text-anchor="start">0</text>
<text x="68.6" y="358.5" font-size="32" text-anchor="start">10</text>
<text x="100.4" y="346.4" font-size="24" text-anchor="start">1</text>
<text x="68.6" y="273.1" font-size="32" text-anchor="start">10</text>
<text x="100.4" y="261" font-size="24" text-anchor="start">2</text>
<text x="68.6" y="187.7" font-size="32" text-anchor="start">10</text>
<text x="100.4" y="175.6" font-size="24" text-anchor="start">3</text>
<text x="111.9" y="127.5" font-size="32" text-anchor="end">0</text>
<text x="111.9" y="74.65" font-size="32" text-anchor="end">20</text>
<text x="111.9" y="21.8" font-size="32" text-anchor="end">40</text>
<text x="564.5" y="589.7" font-size="32" text-anchor="middle">0</text>
<text x="617.25" y="589.7" font-size="32" text-anchor="middle">20</text>
<text x="670" y="589.7" font-size="32" text-anchor="middle">40</text>
<text x="193" y="185.2" font-size="32" text-anchor="start" font-style="italic">V</text>
<text x="210.1" y="189" font-size="24" text-anchor="start">m</text>
<text x="193" y="229.3" font-size="32.8" text-anchor="start" stroke="#000" stroke-width="0.75">&#920;</text>
<text x="215.3" y="233.6" font-size="24" text-anchor="start">D,&#8734;</text>
<g transform="translate(193.6 276.2) scale(1.10 1)">
<text x="0" y="0" font-size="33.5" text-anchor="start" stroke="#000" stroke-width="0.55">&#963;</text>
</g>
<text x="214.7" y="264.8" font-size="24" text-anchor="start">A</text>
<text x="192.3" y="320.8" font-size="32" text-anchor="start">None</text>
<g transform="translate(158.2 635.6)">
<g transform="translate(-1.2 0) scale(1.12 1)">
<text x="0" y="0" font-size="32" text-anchor="start" font-style="italic" stroke="#000" stroke-width="0.3">&#954;</text>
</g>
<text x="17.4" y="-10.6" font-size="23.5" text-anchor="start">SISSO</text>
<text x="86.5" y="0.8" font-size="35.6" text-anchor="start">(</text>
<text x="97.8" y="0" font-size="32" text-anchor="start">300</text>
<text x="148.4" y="0" font-size="32" text-anchor="start">K</text>
<text x="170.1" y="0.8" font-size="35.6" text-anchor="start">)</text>
<rect x="196.7" y="-26.5" width="1.9" height="36.5" fill="#000" stroke="none"/>
<rect x="196.7" y="-26.5" width="6.6" height="1.6" fill="#000" stroke="none"/>
<rect x="196.7" y="8.4" width="6.6" height="1.6" fill="#000" stroke="none"/>
<text x="203.9" y="0" font-size="32" text-anchor="start">W</text>
<text x="234.9" y="0" font-size="32" text-anchor="start">m</text>
<rect x="260.3" y="-17.4" width="14.6" height="1.4" fill="#000" stroke="none"/>
<text x="275.5" y="-10.7" font-size="24" text-anchor="start">1</text>
<text x="288.4" y="0" font-size="32" text-anchor="start">K</text>
<rect x="313.9" y="-17.4" width="14.6" height="1.4" fill="#000" stroke="none"/>
<text x="329.5" y="-10.7" font-size="24" text-anchor="start">1</text>
<rect x="347.8" y="-26.5" width="1.9" height="36.5" fill="#000" stroke="none"/>
<rect x="343.1" y="-26.5" width="6.6" height="1.6" fill="#000" stroke="none"/>
<rect x="343.1" y="8.4" width="6.6" height="1.6" fill="#000" stroke="none"/>
</g>
<g transform="translate(27.2 512.9) rotate(-90)">
<g transform="translate(-2.4 0) scale(1.12 1)">
<text x="0" y="0" font-size="32" text-anchor="start" font-style="italic" stroke="#000" stroke-width="0.3">&#954;</text>
</g>
<text x="17.4" y="-10.6" font-size="22" text-anchor="start" textLength="44.6" lengthAdjust="spacingAndGlyphs">KRR</text>
<text x="68" y="0.8" font-size="35.6" text-anchor="start">(</text>
<text x="79.3" y="0" font-size="32" text-anchor="start">300</text>
<text x="129.9" y="0" font-size="32" text-anchor="start">K</text>
<text x="151.6" y="0.8" font-size="35.6" text-anchor="start">)</text>
<rect x="178.2" y="-26.5" width="1.9" height="36.5" fill="#000" stroke="none"/>
<rect x="178.2" y="-26.5" width="6.6" height="1.6" fill="#000" stroke="none"/>
<rect x="178.2" y="8.4" width="6.6" height="1.6" fill="#000" stroke="none"/>
<text x="185.4" y="0" font-size="32" text-anchor="start">W</text>
<text x="216.4" y="0" font-size="32" text-anchor="start">m</text>
<rect x="241.8" y="-17.4" width="14.6" height="1.4" fill="#000" stroke="none"/>
<text x="257" y="-10.7" font-size="24" text-anchor="start">1</text>
<text x="269.9" y="0" font-size="32" text-anchor="start">K</text>
<rect x="295.4" y="-17.4" width="14.6" height="1.4" fill="#000" stroke="none"/>
<text x="311" y="-10.7" font-size="24" text-anchor="start">1</text>
<rect x="329.3" y="-26.5" width="1.9" height="36.5" fill="#000" stroke="none"/>
<rect x="324.6" y="-26.5" width="6.6" height="1.6" fill="#000" stroke="none"/>
<rect x="324.6" y="8.4" width="6.6" height="1.6" fill="#000" stroke="none"/>
</g>
</g>
</svg>
</body></html>
